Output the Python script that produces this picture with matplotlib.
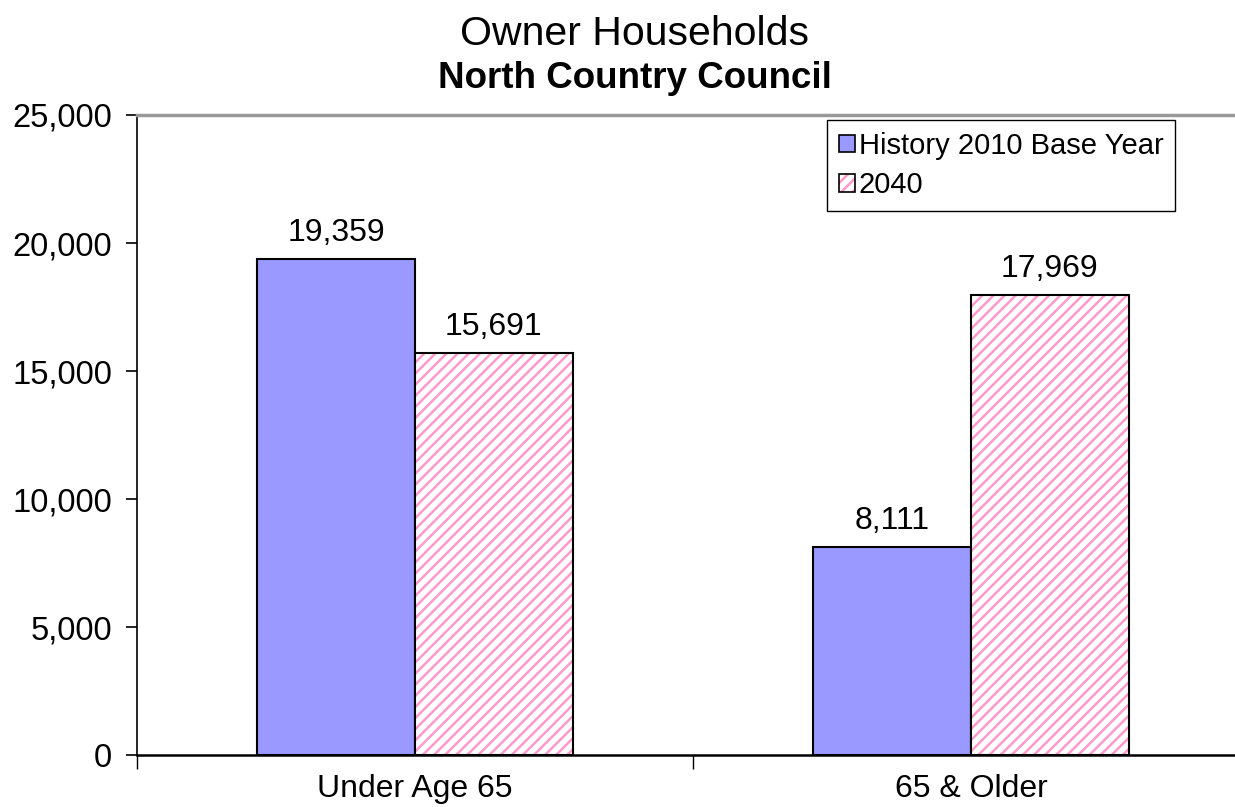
import matplotlib.pyplot as plt
from matplotlib.patches import Patch
from matplotlib.legend_handler import HandlerTuple
from matplotlib.ticker import FuncFormatter, FixedLocator
import numpy as np

categories = ["Under Age 65", "65 & Older"]
base_2010 = [19359, 8111]
proj_2040 = [15691, 17969]
series_names = ["History 2010 Base Year", "2040"]

blue = "#9999FF"
pink = "#FF99CC"

plt.rcParams["font.family"] = ["Liberation Sans", "DejaVu Sans"]
plt.rcParams["hatch.linewidth"] = 1.8

fig = plt.figure(figsize=(12.35, 8.07), dpi=100)
ax = fig.add_axes([0.1109, 0.0644, 0.9004, 0.7931])

x = np.arange(len(categories))
w = 0.284

ax.bar(x - w / 2, base_2010, w, color=blue, edgecolor="black", linewidth=1.5, zorder=3)
# hatch drawn first in pink, then a black outline on top
ax.bar(x + w / 2, proj_2040, w, color="white", edgecolor=pink, hatch="///", linewidth=0, zorder=3)
ax.bar(x + w / 2, proj_2040, w, fill=False, edgecolor="black", linewidth=1.5, zorder=4)

for xs, vals in [(x - w / 2, base_2010), (x + w / 2, proj_2040)]:
    for xi, v in zip(xs, vals):
        ax.annotate(f"{v:,}", (xi, v), xytext=(0, 8), textcoords="offset points",
                    ha="center", va="bottom", fontsize=23)

ax.set_xlim(-0.5, 1.5)
ax.set_ylim(0, 25000)
ax.set_yticks(range(0, 25001, 5000))
ax.yaxis.set_major_formatter(FuncFormatter(lambda v, p: f"{int(v):,}"))
ax.tick_params(axis="y", labelsize=23.5, length=8, width=1.2, pad=10)

ax.set_xticks(x)
ax.set_xticklabels(categories, fontsize=23)
ax.tick_params(axis="x", length=0, pad=14)
ax.xaxis.set_minor_locator(FixedLocator([-0.5, 0.5, 1.5]))
ax.tick_params(axis="x", which="minor", length=10, width=1.0, direction="out")

ax.spines["right"].set_visible(False)
ax.spines["top"].set_color("#999999")
ax.spines["top"].set_linewidth(2.5)
ax.spines["left"].set_linewidth(1.2)
ax.spines["bottom"].set_linewidth(1.8)

h1 = Patch(facecolor=blue, edgecolor="black", linewidth=1.2)
h2a = Patch(facecolor="white", edgecolor=pink, hatch="///", linewidth=0)
h2b = Patch(fill=False, edgecolor="black", linewidth=1.2)
leg = ax.legend([h1, (h2a, h2b)], series_names, handler_map={tuple: HandlerTuple(ndivide=1, pad=0)},
                loc="upper right", bbox_to_anchor=(0.9335, 0.992), fontsize=21,
                handlelength=0.55, handleheight=0.55, handletextpad=0.12,
                borderpad=0.4, labelspacing=0.4, fancybox=False, framealpha=1,
                edgecolor="black", borderaxespad=0)
leg.get_frame().set_linewidth(1.0)

fig.text(0.514, 0.958, "Owner Households", ha="center", va="center", fontsize=29.5)
fig.text(0.514, 0.903, "North Country Council", ha="center", va="center", fontsize=26.5, fontweight="bold")

fig.savefig("out.png", dpi=100)
